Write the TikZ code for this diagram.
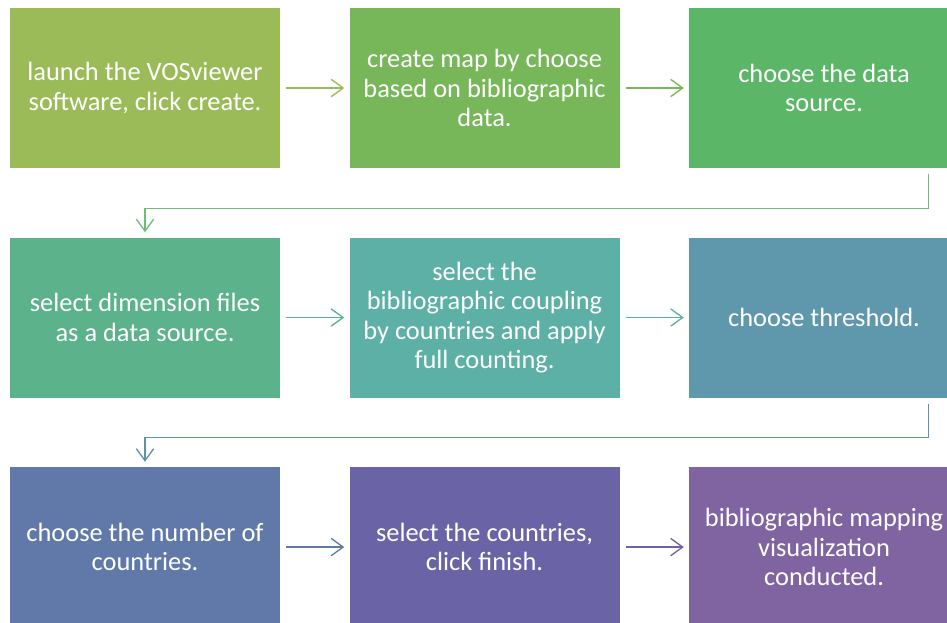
\documentclass[tikz,border=0pt]{standalone}
\usepackage{xcolor}
\usepackage{fontspec}
\setmainfont{Carlito}
\usepackage{tikz}
\usetikzlibrary{positioning}
\usetikzlibrary{calc,arrows.meta}
\definecolor{stepa}{HTML}{9BBB59}
\definecolor{stepb}{HTML}{77B75A}
\definecolor{stepc}{HTML}{5CB668}
\definecolor{stepd}{HTML}{5CB28A}
\definecolor{stepe}{HTML}{5DB0A5}
\definecolor{stepf}{HTML}{5F97AD}
\definecolor{stepg}{HTML}{6079A8}
\definecolor{steph}{HTML}{6A63A6}
\definecolor{stepi}{HTML}{8064A2}
\tikzset{
  procbox/.style = {rectangle, draw=none, inner sep=0pt, align=center,
    minimum width=202.5pt, minimum height=120pt, text=white,
    font=\fontsize{19.8pt}{22pt}\selectfont},% process step
  link/.style = {->, line width=1pt, shorten <=4.5pt,
    shorten >=3.75pt}% connector between steps
}

\begin{document}
\begin{tikzpicture}[x=0.75pt,y=-0.75pt,node distance=51.75pt,
  >={Straight Barb[length=9pt,width=13pt]}]
\useasboundingbox (0,0) rectangle (947,623);
\node [procbox, fill=stepa] (b1) at (145,88)
  {launch the VOSviewer\\software, click create.};
\node [procbox, fill=stepb, right=of b1] (b2)
  {create map by choose\\based on bibliographic\\data.};
\node [procbox, fill=stepc, right=of b2] (b3)
  {choose the data\\source.};
\node [procbox, fill=stepd, below=of b1] (b4)
  {select dimension files\\as a data source.};
\node [procbox, fill=stepe, right=of b4] (b5)
  {select the\\bibliographic coupling\\by countries and apply\\full counting.};
\node [procbox, fill=stepf, right=of b5] (b6)
  {choose threshold.};
\node [procbox, fill=stepg, below=of b4] (b7)
  {choose the number of\\countries.};
\node [procbox, fill=steph, right=of b7] (b8)
  {select the countries,\\click finish.};
\node [procbox, fill=stepi, right=of b8] (b9)
  {bibliographic mapping\\visualization\\conducted.};
% row connectors
\draw [link, stepa] (b1) -- (b2);
\draw [link, stepb] (b2) -- (b3);
\draw [link, stepd] (b4) -- (b5);
\draw [link, stepe] (b5) -- (b6);
\draw [link, stepg] (b7) -- (b8);
\draw [link, steph] (b8) -- (b9);
% bends to next row
\draw [link, stepc!90!white] ($(b3.south east)+(-31,0)$) -- ++(0,40) -| (b4.north);
\draw [link, stepf!80!stepg] ($(b6.south east)+(-31,0)$) -- ++(0,40) -| (b7.north);
\end{tikzpicture}
\end{document}
